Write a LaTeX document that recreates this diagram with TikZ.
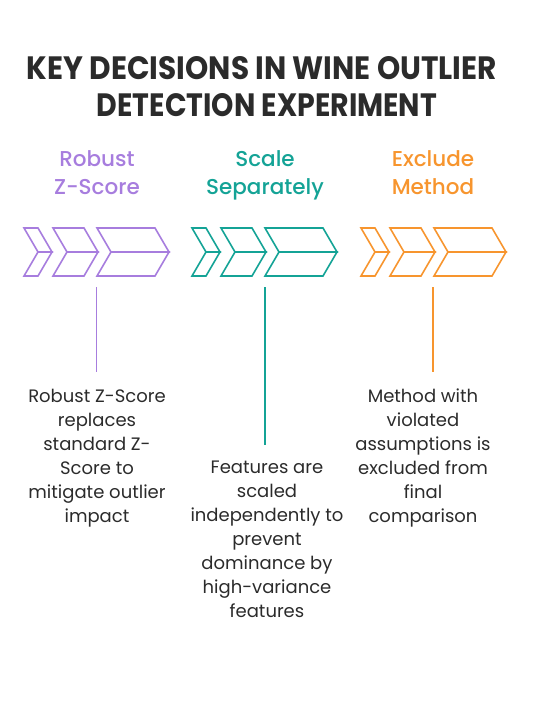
\documentclass[tikz,border=0pt]{standalone}
\usepackage{fontspec}
\setmainfont{Poppins}
\newfontfamily\headfont{Poppins Medium}
\usepackage{graphicx}
\usepackage{tikz}
\usetikzlibrary{positioning}
\definecolor{robustc}{HTML}{A77DDE}
\definecolor{scalec}{HTML}{14A396}
\definecolor{excludec}{HTML}{F7952E}
\definecolor{inkc}{HTML}{2B2B2B}
\tikzset{
  chev/.style={line width=1.6pt, line join=miter},
  stem/.style={line width=1.6pt},
  head/.style={font=\headfont\fontsize{21.5}{28}\selectfont, align=center, inner sep=0pt, anchor=north},
  body/.style={font=\fontsize{18}{24}\selectfont, text=inkc, align=center, inner sep=0pt, anchor=north},
  title/.style={font=\bfseries, text=inkc, inner sep=0pt, anchor=south}
}
% three chevrons, split at the middle line
\newcommand{\chevrons}[2]{%
  \foreach \a/\b in {0/14, 29/60, 73/131}{
    \draw[chev,#2] (#1+\a,228) -- (#1+\b,228) -- (#1+\b+14,252) -- (#1+\a+14,252) -- cycle;
    \draw[chev,#2] (#1+\a+14,252) -- (#1+\b+14,252) -- (#1+\b,276) -- (#1+\a,276) -- cycle;
  }}

\begin{document}
\begin{tikzpicture}[x=1pt, y=-1pt]
  \useasboundingbox (0,0) rectangle (532,708);

  % title
  \node[title] (t1) at (262,80) {\resizebox{470pt}{23pt}{KEY DECISIONS IN WINE OUTLIER}};
  \node[title] (t2) at (267,117) {\resizebox{340pt}{23pt}{DETECTION EXPERIMENT}};

  % headings
  \node[head, text=robustc] (h1) at (97,150) {Robust\\Z-Score};
  \node[head, text=scalec] (h2) at (265,150) {Scale\\Separately};
  \node[head, text=excludec] (h3) at (433,150) {Exclude\\Method};

  % chevrons
  \chevrons{24}{robustc}
  \chevrons{192}{scalec}
  \chevrons{361}{excludec}

  % texts
  \node[body] (b1) at (97,389) {Robust Z-Score\\replaces\\standard Z-\\Score to\\mitigate outlier\\impact};
  \node[body] (b2) at (267,461) {Features are\\scaled\\independently to\\prevent\\dominance by\\high-variance\\features};
  \node[body] (b3) at (423,389) {Method with\\violated\\assumptions is\\excluded from\\final\\comparison};

  % stems
  \coordinate (s1) at (96.5,287);
  \coordinate (s2) at (264.7,287);
  \coordinate (s3) at (432.7,287);
  \draw[stem, robustc] (s1) -- (s1 |- 0,372);
  \draw[stem, scalec] (s2) -- (s2 |- 0,445);
  \draw[stem, excludec] (s3) -- (s3 |- 0,372);
\end{tikzpicture}
\end{document}
